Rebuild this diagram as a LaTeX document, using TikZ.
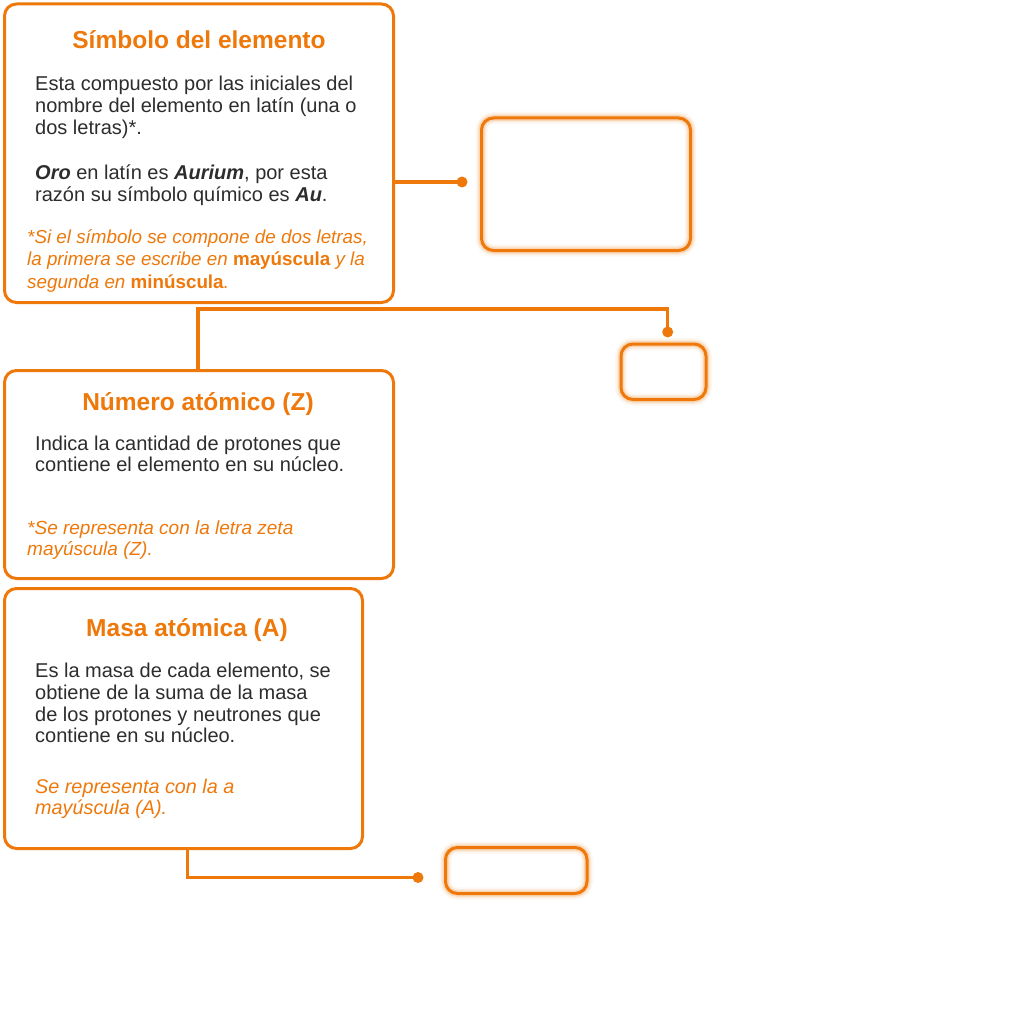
\documentclass[tikz,border=0pt]{standalone}
\usepackage{fontspec}
\setmainfont{Liberation Sans}
\definecolor{orng}{RGB}{238,120,10}
\definecolor{ink}{RGB}{45,45,45}
\newcommand\titlefnt{\fontsize{24.5}{28}\selectfont\bfseries}
\newcommand\bodyfnt{\fontsize{20}{22}\selectfont}
\newcommand\notefnt{\fontsize{18.8}{22}\selectfont\itshape}
\newcommand\notefntb{\fontsize{19}{22}\selectfont\itshape}
\newcommand\notefntc{\fontsize{19.8}{22}\selectfont\itshape}
\newcommand\keyword[1]{\textup{\textbf{#1}}}
\tikzset{
  infobox/.style={draw=orng, line width=3pt, rounded corners=12pt, fill=white,
    inner sep=0pt, outer sep=0pt, minimum width=#1},
  glowbox/.style={draw=orng, line width=3pt, rounded corners=12pt,
    inner sep=0pt, outer sep=0pt,
    preaction={draw=orng, line width=12pt, draw opacity=0.05},
    preaction={draw=orng, line width=9pt, draw opacity=0.09},
    preaction={draw=orng, line width=6pt, draw opacity=0.18}},
  conn/.style={draw=orng, line width=3.2pt},
  dotend/.style={fill=orng},
  ttl/.style={anchor=base, text=orng, font=\titlefnt, inner sep=0pt},
  bodyline/.style={anchor=base west, text=ink, font=\bodyfnt, inner sep=0pt},
  noteline/.style={anchor=base west, text=orng, font=\notefnt, inner sep=0pt}
}
\begin{document}
\begin{tikzpicture}[x=1pt,y=-1pt]
\useasboundingbox[fill=white] (0,0) rectangle (1024,1024);

% information boxes
\node[infobox=389pt, minimum height=298.5pt] (box1) at (199,153.25) {};
\node[infobox=389pt, minimum height=208pt] (box3) at (199,474.5) {};
\node[infobox=358pt, minimum height=260pt] (box4) at (183.5,718.5) {};

% empty highlighted boxes
\node[glowbox, minimum width=209pt, minimum height=132.5pt] (gA) at (586,184.25) {};
\node[glowbox, minimum width=85pt, minimum height=55.5pt] (gB) at (663.5,371.75) {};
\node[glowbox, minimum width=141.5pt, minimum height=46pt] (gC) at (516.25,870.5) {};

% connectors
\coordinate (d1) at (462,182);
\draw[conn] (box1.east |- d1) -- (d1);
\fill[dotend] (d1) circle (5.5);

\coordinate (k2) at (198,309);
\coordinate (d2) at (667.7,332);
\draw[conn] (box3.north -| k2) -- (k2) -| (d2);
\fill[dotend] (d2) circle (5.5);

\coordinate (k3) at (187.7,877.5);
\coordinate (d3) at (418,877.5);
\draw[conn] (box4.south -| k3) -- (k3) -- (d3);
\fill[dotend] (d3) circle (5.5);

% box 1 text
\node[ttl] (t1) at (199,48.5) {Símbolo del elemento};
\node[bodyline] (b1a) at (35,91) {Esta compuesto por las iniciales del};
\node[bodyline] (b1b) at (35,112.7) {nombre del elemento en latín (una o};
\node[bodyline] (b1c) at (35,134.3) {dos letras)*.};
\node[bodyline] (b1d) at (35,180) {\textbf{\textit{Oro}} en latín es \textbf{\textit{Aurium}}, por esta};
\node[bodyline] (b1e) at (35,201.5) {razón su símbolo químico es \textbf{\textit{Au}}.};
\node[noteline] (n1a) at (27,243.5) {*Si el símbolo se compone de dos letras,};
\node[noteline] (n1b) at (27,265.8) {la primera se escribe en \keyword{mayúscula} y la};
\node[noteline] (n1c) at (27,288.3) {segunda en \keyword{minúscula}.};

% box 3 text
\node[ttl] (t3) at (198,410.7) {Número atómico (Z)};
\node[bodyline] (b3a) at (35,450) {Indica la cantidad de protones que};
\node[bodyline] (b3b) at (35,471) {contiene el elemento en su núcleo.};
\node[noteline, font=\notefntb] (n3a) at (27,534) {*Se representa con la letra zeta};
\node[noteline, font=\notefntb] (n3b) at (27,555.3) {mayúscula (Z).};

% box 4 text
\node[ttl] (t4) at (187,636.7) {Masa atómica (A)};
\node[bodyline] (b4a) at (35,677.3) {Es la masa de cada elemento, se};
\node[bodyline] (b4b) at (35,699) {obtiene de la suma de la masa};
\node[bodyline] (b4c) at (35,721) {de los protones y neutrones que};
\node[bodyline] (b4d) at (35,742.7) {contiene en su núcleo.};
\node[noteline, font=\notefntc] (n4a) at (35,793.3) {Se representa con la a};
\node[noteline, font=\notefntc] (n4b) at (35,814.3) {mayúscula (A).};
\end{tikzpicture}
\end{document}
